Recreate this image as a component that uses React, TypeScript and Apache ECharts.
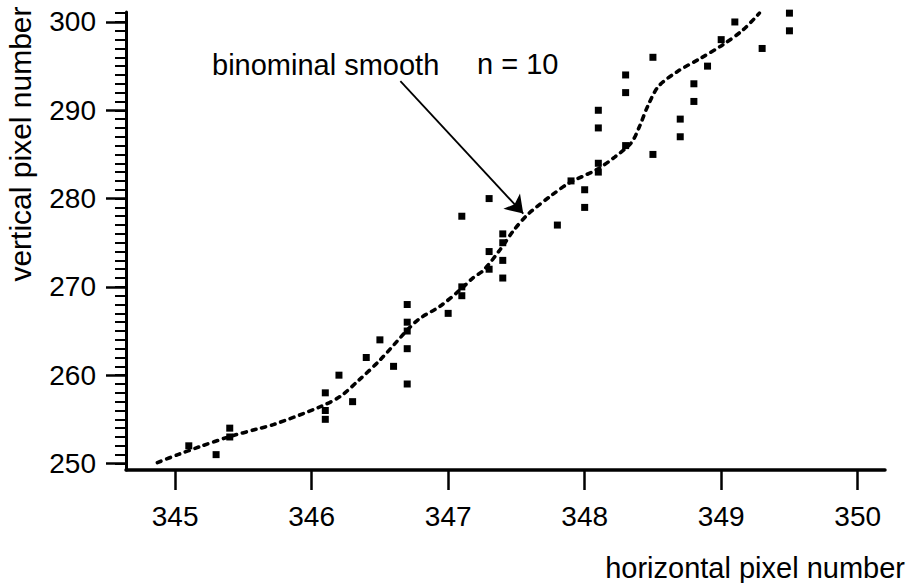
import React, { useEffect, useRef } from "react";
import * as echarts from "echarts";

// Axis ticks / labels
const xTickValues = [345, 346, 347, 348, 349, 350];
const yMajorValues = [250, 260, 270, 280, 290, 300];
const yMinorValues = [
  250, 251, 252, 253, 254, 255, 256, 257, 258, 259, 260, 261, 262, 263, 264, 265, 266, 267,
  268, 269, 270, 271, 272, 273, 274, 275, 276, 277, 278, 279, 280, 281, 282, 283, 284, 285,
  286, 287, 288, 289, 290, 291, 292, 293, 294, 295, 296, 297, 298, 299, 300, 301,
];

// Measured pixel positions (data points)
const pointX = [
  345.1, 345.3, 345.4, 345.4, 346.1, 346.1, 346.1, 346.2, 346.3, 346.4, 346.5, 346.6,
  346.7, 346.7, 346.7, 346.7, 346.7, 347.0, 347.1, 347.1, 347.1, 347.3, 347.3, 347.3,
  347.4, 347.4, 347.4, 347.4, 347.8, 347.9, 348.0, 348.0, 348.1, 348.1, 348.1, 348.1,
  348.3, 348.3, 348.3, 348.5, 348.5, 348.7, 348.7, 348.8, 348.8, 348.9, 349.0, 349.1,
  349.3, 349.5, 349.5,
];
const pointY = [
  252, 251, 254, 253, 258, 256, 255, 260, 257, 262, 264, 261,
  268, 266, 265, 263, 259, 267, 278, 270, 269, 280, 274, 272,
  276, 275, 273, 271, 277, 282, 281, 279, 290, 288, 284, 283,
  294, 292, 286, 296, 285, 289, 287, 293, 291, 295, 298, 300,
  297, 301, 299,
];

// Binomial smooth (n = 10) curve
const curveX = [
  344.87, 345.02, 345.18, 345.39, 345.6, 345.72, 346.06, 346.21, 346.35, 346.5, 346.7,
  346.79, 346.94, 347.09, 347.18, 347.26, 347.38, 347.48, 347.59, 347.76, 347.89, 348.09,
  348.22, 348.34, 348.4, 348.46, 348.54, 348.68, 348.85, 349.01, 349.16, 349.28,
];
const curveY = [
  250.1, 251.0, 251.9, 253.0, 253.9, 254.4, 256.4, 257.6, 259.5, 261.7, 265.1,
  266.4, 267.8, 269.7, 271.0, 271.9, 274.2, 276.4, 278.3, 280.4, 281.8, 283.3,
  284.7, 286.3, 288.1, 290.4, 292.7, 294.4, 295.9, 297.4, 299.1, 301.0,
];

const xRange = [344.64, 350.2];
const yRange = [249.26, 301.13];

const arrowFrom = [346.65, 293.3];
const arrowTo = [347.55, 278.3];

const FONT = '"Liberation Sans", Arial, Helvetica, sans-serif';

export default function App() {
  const ref = useRef<HTMLDivElement>(null);

  useEffect(() => {
    document.body.style.margin = "0";
    if (!ref.current) return;
    const chart = echarts.init(ref.current, null, { renderer: "svg" });

    const points = pointX.map((x, i) => [x, pointY[i]]);
    const curve = curveX.map((x, i) => [x, curveY[i]]);

    const yBase = {
      type: "value",
      position: "left",
      offset: 0,
      min: yRange[0],
      max: yRange[1],
      splitLine: { show: false },
    };

    chart.setOption({
      animation: false,
      backgroundColor: "#fff",
      grid: { left: 126, right: 28, top: 12, bottom: 113, containLabel: false },
      xAxis: {
        type: "value",
        min: xRange[0],
        max: xRange[1],
        splitLine: { show: false },
        axisLine: { show: true, onZero: false, lineStyle: { color: "#000", width: 3.5 } },
        axisTick: {
          show: true,
          inside: false,
          length: 20,
          customValues: xTickValues,
          lineStyle: { color: "#000", width: 2.5 },
        },
        axisLabel: {
          show: true,
          margin: 32,
          customValues: xTickValues,
          color: "#000",
          fontSize: 28,
          fontFamily: FONT,
          formatter: (v: number) => String(Math.round(v)),
        },
      },
      yAxis: [
        {
          ...yBase,
          axisLine: { show: true, onZero: false, lineStyle: { color: "#000", width: 3 } },
          axisTick: {
            show: true,
            length: 11,
            customValues: yMinorValues,
            lineStyle: { color: "#000", width: 2 },
          },
          axisLabel: {
            show: true,
            customValues: yMinorValues,
            formatter: () => "",
            fontSize: 1,
            color: "rgba(0,0,0,0)",
          },
        },
        {
          ...yBase,
          axisLine: { show: false, onZero: false },
          axisTick: {
            show: true,
            length: 20,
            customValues: yMajorValues,
            lineStyle: { color: "#000", width: 2.5 },
          },
          axisLabel: {
            show: true,
            margin: 30,
            customValues: yMajorValues,
            color: "#000",
            fontSize: 28,
            fontFamily: FONT,
            formatter: (v: number) => String(Math.round(v)),
          },
        },
      ],
      series: [
        {
          type: "line",
          name: "binominal smooth",
          data: curve,
          yAxisIndex: 0,
          smooth: 0.3,
          showSymbol: false,
          symbol: "none",
          silent: true,
          lineStyle: { color: "#000", width: 3.6, type: [4, 6], cap: "round" },
        },
        {
          type: "scatter",
          name: "pixels",
          data: points,
          yAxisIndex: 0,
          symbol: "rect",
          symbolSize: 7,
          silent: true,
          itemStyle: { color: "#000", opacity: 1 },
          markLine: {
            silent: true,
            symbol: ["none", "arrow"],
            symbolSize: 17,
            label: { show: false },
            lineStyle: { color: "#000", width: 1.8, type: "solid", opacity: 1 },
            itemStyle: { color: "#000" },
            data: [[{ coord: arrowFrom }, { coord: arrowTo }]],
          },
        },
      ],
      graphic: [
        {
          type: "text",
          x: 212,
          y: 65,
          style: {
            text: "binominal smooth",
            fontSize: 29,
            fontFamily: FONT,
            fill: "#000",
            align: "left",
            verticalAlign: "middle",
          },
        },
        {
          type: "text",
          x: 477,
          y: 64,
          style: {
            text: "n = 10",
            fontSize: 29,
            fontFamily: FONT,
            fill: "#000",
            align: "left",
            verticalAlign: "middle",
          },
        },
        {
          type: "text",
          x: 20,
          y: 144,
          rotation: Math.PI / 2,
          style: {
            text: "vertical pixel number",
            fontSize: 30,
            fontFamily: FONT,
            fill: "#000",
            align: "center",
            verticalAlign: "middle",
          },
        },
        {
          type: "text",
          x: 905,
          y: 568,
          style: {
            text: "horizontal pixel number",
            fontSize: 29,
            fontFamily: FONT,
            fill: "#000",
            align: "right",
            verticalAlign: "middle",
          },
        },
      ],
    });

    return () => chart.dispose();
  }, []);

  return <div ref={ref} style={{ width: 913, height: 583 }} />;
}
